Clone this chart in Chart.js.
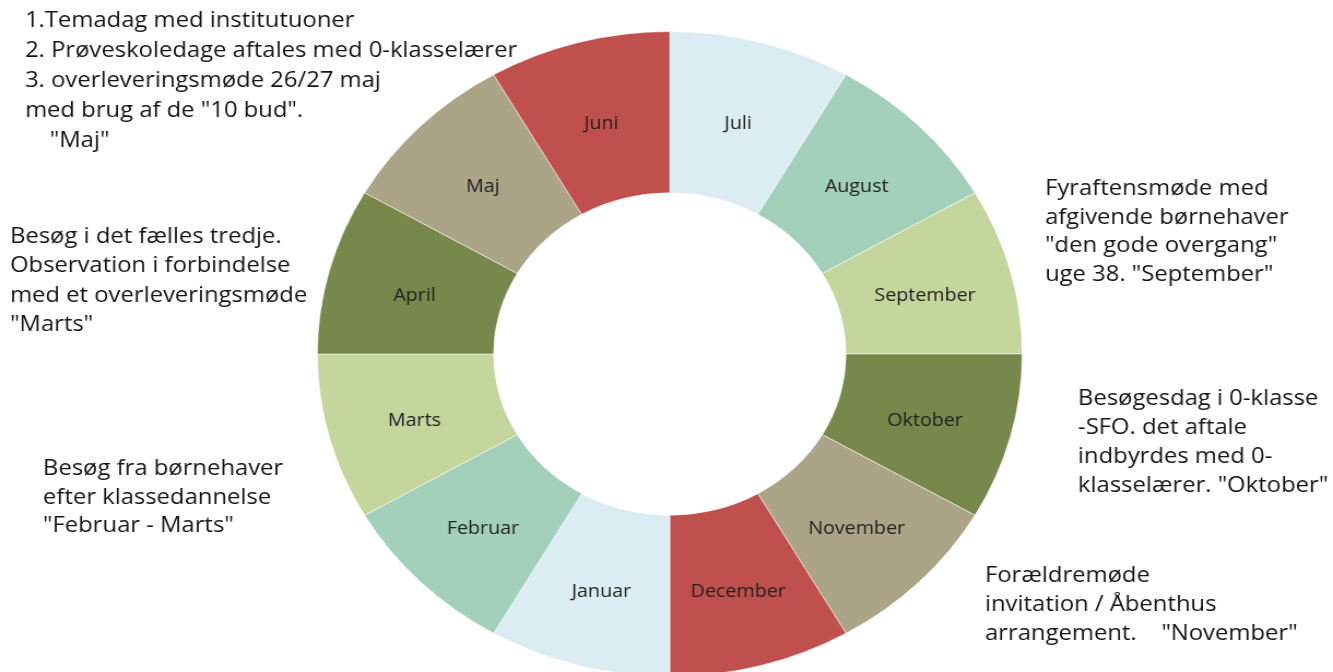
<!DOCTYPE html>
<html>
<head>
<meta charset="utf-8">
<script src="https://cdn.jsdelivr.net/npm/chart.js@4/dist/chart.umd.min.js"></script>
<style>
    html, body { margin: 0; padding: 0; background: #fff; overflow: hidden; }
    /* stretch sideways like the source picture */
    #wheel { display: block; width: 1333px !important; height: 680px !important; }
</style>
</head>
<body>
<canvas id="wheel" width="1220" height="680"></canvas>
<script>
// months clockwise from 12 o'clock
const MONTHS = [
    'Juli', 'August', 'September', 'Oktober', 'November', 'December',
    'Januar', 'Februar', 'Marts', 'April', 'Maj', 'Juni',
];
const MONTH_VALUES = [1, 1, 1, 1, 1, 1, 1, 1, 1, 1, 1, 1];
const MONTH_COLORS = [
    '#dbedf3', '#a2d0bb', '#c4d69b', '#77884a', '#aba486', '#c0504d',
    '#dbedf3', '#a2d0bb', '#c4d69b', '#77884a', '#aba486', '#c0504d',
];

// free text notes round the wheel
const NOTE_MAJ = [
    '1.Temadag med institutuoner',
    '2. Prøveskoledage aftales med 0-klasselærer',
    '3. overleveringsmøde 26/27 maj',
    'med brug af de "10 bud".',
    '    "Maj"',
];
const NOTE_MARTS = [
    'Besøg i det fælles tredje.',
    'Observation i forbindelse',
    'med et overleveringsmøde',
    '"Marts"',
];
const NOTE_FEBRUAR = [
    'Besøg fra børnehaver',
    'efter klassedannelse',
    '"Februar - Marts"',
];
const NOTE_SEPTEMBER = [
    'Fyraftensmøde med',
    'afgivende børnehaver',
    '"den gode overgang"',
    'uge 38. "September"',
];
const NOTE_OKTOBER = [
    'Besøgesdag i 0-klasse',
    '-SFO. det aftale',
    'indbyrdes med 0-',
    'klasselærer. "Oktober"',
];
const NOTE_NOVEMBER = [
    'Forældremøde',
    'invitation / Åbenthus',
    'arrangement.    "November"',
];

// canvas is 1220 wide but shown 1333 wide
const STRETCH = 1333 / 1220;

const THEME = {
    fontFamily: "'Open Sans', 'Noto Sans', sans-serif",
    labelColor: '#222222',
    noteColor: '#141414',
};

// where each note block sits (page px: left x, first baseline, line step)
const NOTE_LAYOUT = [
    { lines: NOTE_MAJ, x: 25, y: 27, step: 30 },
    { lines: NOTE_MARTS, x: 10, y: 243, step: 29.3 },
    { lines: NOTE_FEBRUAR, x: 43, y: 475, step: 28.5 },
    { lines: NOTE_SEPTEMBER, x: 1045, y: 195, step: 28.5 },
    { lines: NOTE_OKTOBER, x: 1078, y: 405, step: 29 },
    { lines: NOTE_NOVEMBER, x: 985, y: 582, step: 29 },
];

const segmentLabels = {
    id: 'segmentLabels',
    afterDatasetsDraw(chart) {
        const ctx = chart.ctx;
        const meta = chart.getDatasetMeta(0);
        ctx.save();
        ctx.font = `18px ${THEME.fontFamily}`;
        ctx.fillStyle = THEME.labelColor;
        ctx.textAlign = 'center';
        ctx.textBaseline = 'middle';
        meta.data.forEach((arc, i) => {
            const p = arc.tooltipPosition();
            ctx.fillText(chart.data.labels[i], p.x, p.y + 4);
        });
        ctx.restore();
    },
};

const notes = {
    id: 'notes',
    afterDraw(chart) {
        const ctx = chart.ctx;
        ctx.save();
        ctx.font = `21.8px ${THEME.fontFamily}`;
        ctx.fillStyle = THEME.noteColor;
        ctx.textAlign = 'left';
        ctx.textBaseline = 'alphabetic';
        NOTE_LAYOUT.forEach(block => {
            block.lines.forEach((line, i) => {
                ctx.fillText(line, block.x / STRETCH, block.y + i * block.step);
            });
        });
        ctx.restore();
    },
};

new Chart(document.getElementById('wheel'), {
    type: 'doughnut',
    data: {
        labels: MONTHS,
        datasets: [{
            data: MONTH_VALUES,
            backgroundColor: MONTH_COLORS,
            borderColor: 'rgba(255, 255, 255, 0.5)',
            borderWidth: 1,
        }],
    },
    options: {
        responsive: false,
        devicePixelRatio: 1,
        animation: false,
        cutout: '50%',
        layout: { padding: { top: 31, bottom: 3, left: 6, right: 0 } },
        plugins: {
            legend: { display: false },
            tooltip: { enabled: false },
        },
    },
    plugins: [segmentLabels, notes],
});
</script>
</body>
</html>
